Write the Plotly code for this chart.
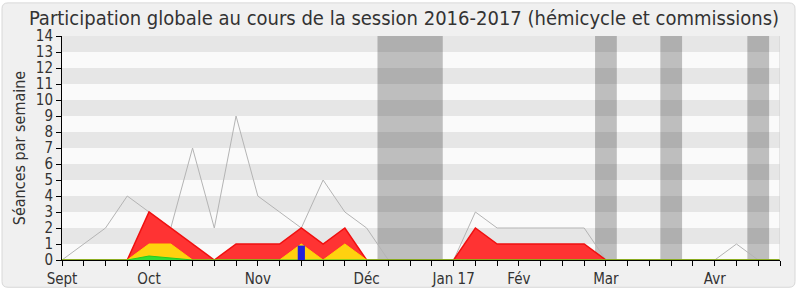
import plotly.graph_objects as go

weeks = list(range(34))
tick_labels = {0: "Sept", 4: "Oct", 9: "Nov", 14: "Déc", 18: "Jan 17", 21: "Fév", 25: "Mar", 30: "Avr"}

total = [0, 1, 2, 4, 3, 2, 7, 2, 9, 4, 3, 2, 5, 3, 2, 0, 0, 0, 0, 3, 2, 2, 2, 2, 2, 0, 0, 0, 0, 0, 0, 1, 0, 0]
presence = [0, 0, 0, 0, 3, 2, 1, 0, 1, 1, 1, 2, 1, 2, 0, 0, 0, 0, 0, 2, 1, 1, 1, 1, 1, 0, 0, 0, 0, 0, 0, 0, 0, 0]
interventions = [0, 0, 0, 0, 1, 1, 0, 0, 0, 0, 0, 1, 0, 1, 0, 0, 0, 0, 0, 0, 0, 0, 0, 0, 0, 0, 0, 0, 0, 0, 0, 0, 0, 0]
amendements = [0, 0, 0, 0, 0.25, 0.12, 0, 0, 0, 0, 0, 0, 0, 0, 0, 0, 0, 0, 0, 0, 0, 0, 0, 0, 0, 0, 0, 0, 0, 0, 0, 0, 0, 0]
questions = [0, 0, 0, 0, 0, 0, 0, 0, 0, 0, 0, 0.9, 0, 0, 0, 0, 0, 0, 0, 0, 0, 0, 0, 0, 0, 0, 0, 0, 0, 0, 0, 0, 0, 0]
vacances = [(14.5, 17.5), (24.5, 25.5), (27.5, 28.5), (31.5, 32.5)]
y_max = 14

FONT = "DejaVu Sans Condensed, DejaVu Sans, sans-serif"
L, R, T, B = 62, 20, 36, 34
W, H = 800, 300
pw, ph = W - L - R, H - T - B

fig = go.Figure()
fig.add_trace(go.Scatter(x=weeks, y=total, mode="lines", line=dict(color="#b4b4b4", width=1), hoverinfo="skip"))
fig.add_trace(go.Scatter(x=weeks, y=presence, mode="lines", fill="tozeroy", fillcolor="rgba(255,51,51,1)",
                         line=dict(color="#f01010", width=1.5), hoverinfo="skip"))
fig.add_trace(go.Scatter(x=weeks, y=interventions, mode="lines", fill="tozeroy", fillcolor="#ffd10f",
                         line=dict(color="#ffd700", width=1), hoverinfo="skip"))
fig.add_trace(go.Scatter(x=weeks, y=amendements, mode="lines", fill="tozeroy", fillcolor="#33dd33",
                         line=dict(color="#22cc22", width=1), hoverinfo="skip"))
fig.add_trace(go.Bar(x=weeks, y=questions, marker=dict(color="#2222dd", line=dict(width=0)), width=0.33,
                     hoverinfo="skip", xaxis="x2", yaxis="y2"))

shapes = []
def px2x(px):
    return (px - L) / pw
def py2y(py):
    return (H - B - py) / ph
x0, x1, y0, y1, r = 2, 795, 2, 294, 6
path = (f"M {px2x(x0 + r)},{py2y(y0)} L {px2x(x1 - r)},{py2y(y0)} "
        f"Q {px2x(x1)},{py2y(y0)} {px2x(x1)},{py2y(y0 + r)} L {px2x(x1)},{py2y(y1 - r)} "
        f"Q {px2x(x1)},{py2y(y1)} {px2x(x1 - r)},{py2y(y1)} L {px2x(x0 + r)},{py2y(y1)} "
        f"Q {px2x(x0)},{py2y(y1)} {px2x(x0)},{py2y(y1 - r)} L {px2x(x0)},{py2y(y0 + r)} "
        f"Q {px2x(x0)},{py2y(y0)} {px2x(x0 + r)},{py2y(y0)} Z")
shapes.append(dict(type="path", path=path, xref="paper", yref="paper", fillcolor="#f0f0f0",
                   line=dict(color="#d8d8d8", width=1), layer="below"))
for k in range(0, y_max):
    shapes.append(dict(type="rect", xref="x", yref="y", x0=0, x1=33, y0=k, y1=k + 1,
                       fillcolor="#e6e6e6" if k % 2 else "#fafafa", line=dict(width=0), layer="below"))
for a, b in vacances:
    shapes.append(dict(type="rect", xref="x", yref="y", x0=a, x1=b, y0=0, y1=y_max,
                       fillcolor="rgba(0,0,0,0.24)", line=dict(width=0), layer="below"))
shapes.append(dict(type="line", xref="x", yref="y", x0=33, x1=33, y0=0, y1=y_max,
                   line=dict(color="#d0d0d0", width=1)))

fig.update_layout(
    width=W, height=H,
    margin=dict(l=L, r=R, t=T, b=B),
    paper_bgcolor="white", plot_bgcolor="#fafafa",
    showlegend=False,
    shapes=shapes,
    barmode="overlay",
    title=dict(text="Participation globale au cours de la session 2016-2017 (hémicycle et commissions)",
               x=0.505, xanchor="center", y=0.94, yanchor="middle", xref="container",
               font=dict(family=FONT, size=20, color="#333333")),
    font=dict(family=FONT, color="#333333"),
    xaxis2=dict(overlaying="x", range=[0, 33], visible=False, fixedrange=True),
    yaxis2=dict(overlaying="y", range=[0, y_max], visible=False, fixedrange=True),
)
fig.update_xaxes(selector=dict(anchor="y"))
fig.layout.xaxis.update(range=[0, 33], tickmode="array", tickvals=weeks,
                        ticktext=[tick_labels.get(w, "") for w in weeks],
                        ticks="outside", ticklen=5, tickcolor="#000", showgrid=False, zeroline=False,
                        showline=True, linecolor="#000", linewidth=1,
                        tickfont=dict(family=FONT, size=15, color="#333333"), fixedrange=True)
fig.layout.yaxis.update(range=[0, y_max], tickmode="array", tickvals=list(range(y_max + 1)),
                        ticks="outside", ticklen=5, tickcolor="#000", showgrid=False, zeroline=False,
                        showline=True, linecolor="#000", linewidth=1,
                        tickfont=dict(family=FONT, size=15, color="#333333"),
                        title=dict(text="Séances par semaine", font=dict(family=FONT, size=16, color="#333333"), standoff=6),
                        fixedrange=True)

fig.write_html("out.html")
